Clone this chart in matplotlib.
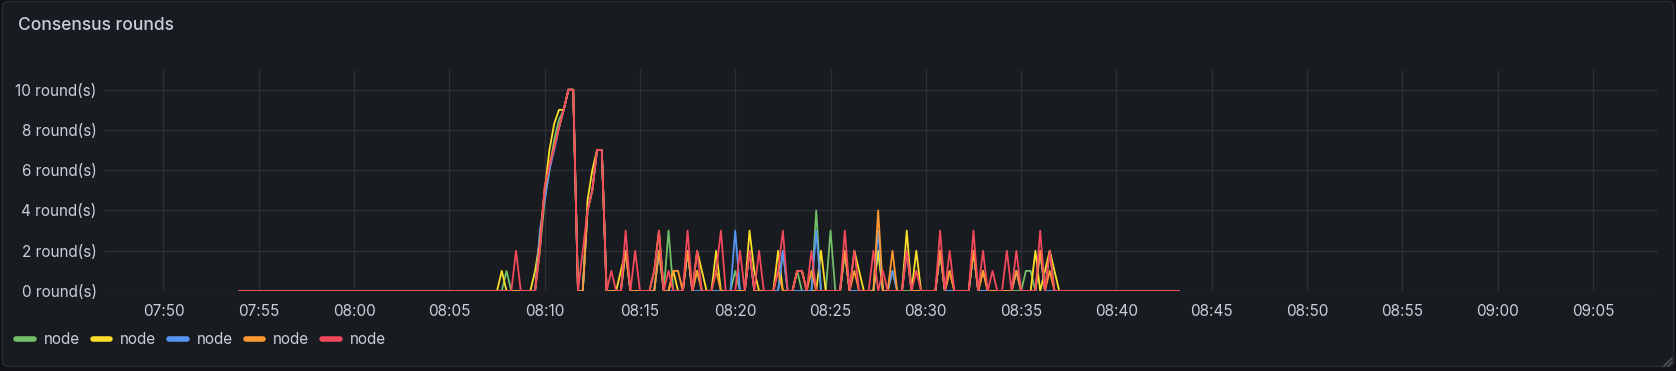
import numpy as np
import pandas as pd
import matplotlib
matplotlib.use("Agg")
import matplotlib.pyplot as plt
import matplotlib.dates as mdates
from matplotlib.patches import FancyBboxPatch
from matplotlib.lines import Line2D

# samples every 15 s starting 07:54:00; keys = sample number, values = rounds (zero elsewhere)
start_time = "2024-01-01 07:54:00"
n_samples = 198
step = "15s"

green = {56: 1, 63: 2, 64: 4.5, 65: 6, 66: 7.5, 67: 8.5, 68: 9, 69: 10, 70: 10,
         73: 4, 74: 5, 75: 7, 76: 7, 81: 2, 88: 2, 90: 3, 94: 2, 96: 1, 104: 1,
         107: 2, 114: 2, 117: 1, 121: 4, 124: 3, 127: 2, 134: 2, 147: 2, 154: 2,
         165: 1, 166: 1, 168: 2, 170: 2}
yellow = {55: 1, 62: 1, 63: 2.5, 64: 5, 65: 7, 66: 8.3, 67: 9, 68: 9, 69: 10, 70: 10,
          73: 4.5, 74: 6, 75: 7, 76: 7, 80: 1, 81: 2, 87: 1, 88: 3, 91: 1, 94: 2,
          96: 2, 97: 1, 100: 2, 107: 3, 108: 1, 113: 2, 117: 1, 118: 1, 122: 2,
          127: 2, 129: 2, 130: 1, 134: 2, 137: 1, 140: 3, 142: 2, 147: 2, 149: 1,
          154: 2, 156: 1, 163: 1, 167: 2, 169: 1, 170: 2, 171: 1}
blue = {63: 3, 64: 4.5, 65: 6, 66: 7, 67: 8.1, 68: 9, 69: 10, 70: 10,
        73: 4, 74: 5, 75: 7, 76: 7, 81: 2, 88: 2, 94: 2, 104: 3, 107: 2, 114: 2,
        121: 3, 127: 2, 134: 3, 137: 1, 140: 2, 147: 2, 154: 2, 163: 1, 168: 2}
orange = {63: 2.5, 64: 5, 65: 6.3, 66: 7.2, 67: 8.1, 68: 9, 69: 10, 70: 10,
          73: 4, 74: 5, 75: 7, 76: 7, 81: 2, 88: 2, 91: 1, 92: 1, 94: 2, 96: 1,
          100: 1, 107: 2, 113: 1, 117: 1, 118: 1, 120: 1, 127: 2, 129: 1, 134: 4,
          137: 2, 140: 2, 147: 2, 149: 1, 154: 2, 156: 1, 163: 1, 168: 2, 170: 1}
red = {58: 2, 63: 2, 64: 5.2, 65: 6.2, 66: 7.1, 67: 8.1, 68: 9, 69: 10, 70: 10,
       72: 2, 73: 4, 74: 5, 75: 7, 76: 7, 78: 1, 81: 3, 83: 2, 87: 1, 88: 3,
       90: 1, 94: 3, 96: 2, 100: 1, 101: 3, 105: 2, 107: 2, 109: 2, 113: 1,
       114: 3, 117: 1, 118: 1, 120: 2, 127: 3, 129: 2, 133: 2, 135: 1, 140: 2,
       142: 1, 147: 3, 149: 2, 154: 3, 156: 2, 158: 1, 161: 2, 163: 2, 168: 3,
       170: 2}

series = [green, yellow, blue, orange, red]
labels = ["node", "node", "node", "node", "node"]
colors = ["#73BF69", "#FADE2A", "#5794F2", "#FF9830", "#F2495C"]
y_ticks = [0, 2, 4, 6, 8, 10]

times = pd.date_range(start_time, periods=n_samples, freq=step)


def expand(points):
    v = np.zeros(n_samples)
    for k, val in points.items():
        v[k] = val
    return v


W, H = 1676, 371
fig = plt.figure(figsize=(W / 100, H / 100), dpi=100, facecolor="#111217")

panel = FancyBboxPatch((2.5, 4.5), 1671, 365, boxstyle="round,pad=0,rounding_size=6",
                       transform=None, facecolor="#181b1f", edgecolor="#2a2d33", lw=1,
                       zorder=-5)
fig.patches.append(panel)

fig.text(18 / W, 1 - 25 / H, "Consensus rounds", color="#ccccdc", fontsize=12.5,
         fontweight="medium", family="Inter", va="center", ha="left")

ax = fig.add_axes([105 / W, (H - 291) / H, (1657.7 - 105) / W, (291 - 69.6) / H])
ax.set_facecolor("none")

for vals, lab, col in zip(series, labels, colors):
    ax.plot(times, expand(vals), color=col, lw=1.3, label=lab)

ax.set_ylim(0, 11)
ax.set_yticks(y_ticks)
ax.set_yticklabels([f"{v} round(s)" for v in y_ticks])
ax.set_xlim(pd.Timestamp("2024-01-01 07:46:56"), pd.Timestamp("2024-01-01 09:08:24"))
ax.xaxis.set_major_locator(mdates.MinuteLocator(byminute=range(0, 60, 5)))
ax.xaxis.set_major_formatter(mdates.DateFormatter("%H:%M"))

ax.grid(True, color="#2c2f35", lw=1)
ax.set_axisbelow(True)
for s in ax.spines.values():
    s.set_visible(False)
ax.tick_params(length=0, labelcolor="#ccccdc", labelsize=11)
ax.tick_params(axis="y", pad=6)
ax.tick_params(axis="x", pad=9)
for t in ax.get_xticklabels() + ax.get_yticklabels():
    t.set_family("Inter")

handles = [Line2D([], [], color=c, lw=4, solid_capstyle="round") for c in colors]
leg = fig.legend(handles, labels, loc="center left", bbox_to_anchor=(16 / W, 1 - 340 / H),
                 ncol=5, frameon=False, handlelength=1.15, handletextpad=0.65,
                 columnspacing=0.85, borderpad=0, borderaxespad=0,
                 prop={"family": "Inter", "size": 11})
for t in leg.get_texts():
    t.set_color("#ccccdc")

# resize grip in bottom-right corner
for off in (4, 8):
    fig.add_artist(Line2D([W - 4 - off, W - 4], [5, 5 + off], transform=None,
                          color="#5a5d63", lw=1))

fig.savefig("out.png", dpi=100, facecolor=fig.get_facecolor())
